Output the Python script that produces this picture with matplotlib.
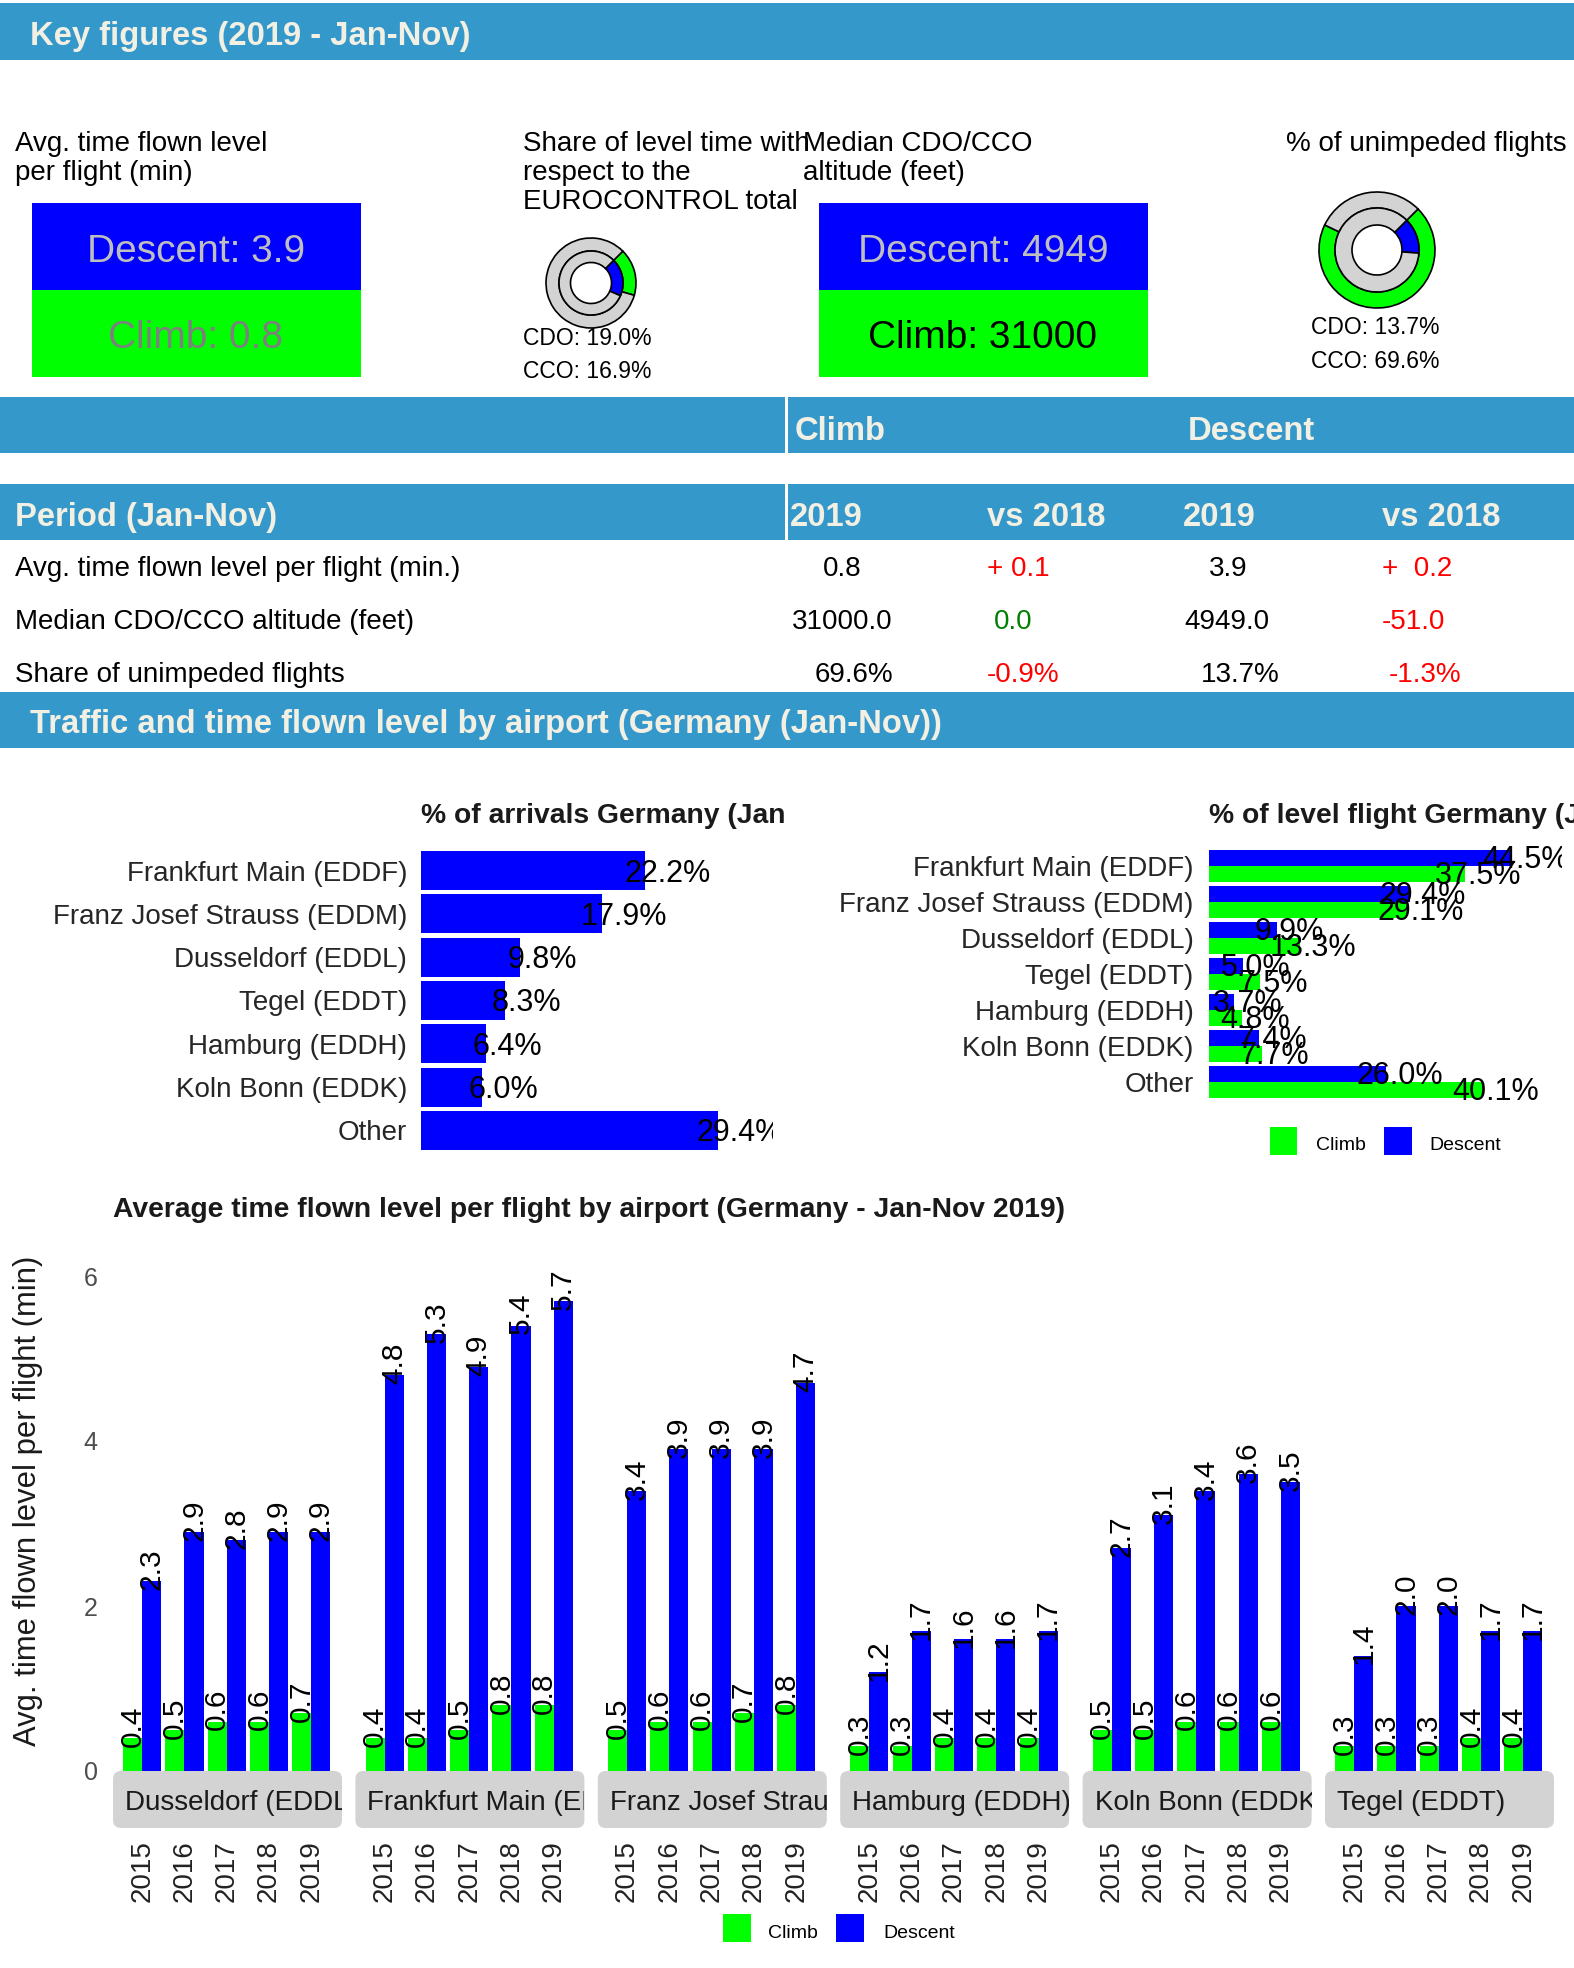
import matplotlib.pyplot as plt
import matplotlib.patches as mpatches
from matplotlib.transforms import Bbox, TransformedBbox
import numpy as np

W, H = 1574, 1968
plt.rcParams['font.family'] = ['Liberation Sans', 'DejaVu Sans']

BAND = '#3598CB'
BAND_TEXT = '#F2EFE3'
BLUE = '#0000FF'
GREEN = '#00FF00'
RING = '#D3D3D3'
DARK = '#262626'

# key figures
avg_level_descent = 3.9
avg_level_climb = 0.8
median_alt_descent = 4949
median_alt_climb = 31000
share_cdo, share_cco = 19.0, 16.9
unimpeded_cdo, unimpeded_cco = 13.7, 69.6

# table
table_rows = ["Avg. time flown level per flight (min.)",
              "Median CDO/CCO altitude (feet)",
              "Share of unimpeded flights"]
climb_2019 = ["0.8", "31000.0", "69.6%"]
climb_vs2018 = ["+ 0.1", "0.0", "-0.9%"]
descent_2019 = ["3.9", "4949.0", "13.7%"]
descent_vs2018 = ["+  0.2", "-51.0", "-1.3%"]
climb_vs_colors = ['#FF0000', '#008000', '#FF0000']
descent_vs_colors = ['#FF0000', '#FF0000', '#FF0000']

# traffic by airport
airports = ["Frankfurt Main (EDDF)", "Franz Josef Strauss (EDDM)", "Dusseldorf (EDDL)",
            "Tegel (EDDT)", "Hamburg (EDDH)", "Koln Bonn (EDDK)", "Other"]
arrivals_pct = [22.2, 17.9, 9.8, 8.3, 6.4, 6.0, 29.4]
level_climb_pct = [37.5, 29.1, 13.3, 7.5, 4.8, 7.7, 40.1]
level_descent_pct = [44.5, 29.4, 9.9, 5.0, 3.7, 7.4, 26.0]

# avg time flown level by airport and year
facet_airports = ["Dusseldorf (EDDL)", "Frankfurt Main (EDDF)", "Franz Josef Strauss (EDDM)",
                  "Hamburg (EDDH)", "Koln Bonn (EDDK)", "Tegel (EDDT)"]
years = ["2015", "2016", "2017", "2018", "2019"]
climb_min = [[0.4, 0.5, 0.6, 0.6, 0.7],
             [0.4, 0.4, 0.5, 0.8, 0.8],
             [0.5, 0.6, 0.6, 0.7, 0.8],
             [0.3, 0.3, 0.4, 0.4, 0.4],
             [0.5, 0.5, 0.6, 0.6, 0.6],
             [0.3, 0.3, 0.3, 0.4, 0.4]]
descent_min = [[2.3, 2.9, 2.8, 2.9, 2.9],
               [4.8, 5.3, 4.9, 5.4, 5.7],
               [3.4, 3.9, 3.9, 3.9, 4.7],
               [1.2, 1.7, 1.6, 1.6, 1.7],
               [2.7, 3.1, 3.4, 3.6, 3.5],
               [1.4, 2.0, 2.0, 1.7, 1.7]]

fig = plt.figure(figsize=(W / 100, H / 100), dpi=100)


# helpers working in pixel coordinates (origin top-left)
def px_axes(l, t, r, b):
    return fig.add_axes([l / W, 1 - b / H, (r - l) / W, (b - t) / H])


def ftext(x, y, s, **kw):
    return fig.text(x / W, 1 - y / H, s, **kw)


def frect(l, t, r, b, color):
    fig.add_artist(mpatches.Rectangle((l / W, 1 - b / H), (r - l) / W, (b - t) / H,
                                      transform=fig.transFigure, facecolor=color,
                                      edgecolor='none'))


def clip_px(artist, l, t, r, b):
    box = TransformedBbox(Bbox.from_extents(l / W, 1 - b / H, r / W, 1 - t / H), fig.transFigure)
    artist.set_clip_box(box)
    artist.set_clip_on(True)


def band(t, b, text, y_base):
    frect(0, t, W, b, BAND)
    ftext(30, y_base, text, fontsize=23.6, fontweight='bold', color=BAND_TEXT, va='baseline')


# ---------- Key figures ----------
band(3, 60, "Key figures (2019 - Jan-Nov)", 45)

for i, line in enumerate(["Avg. time flown level", "per flight (min)"]):
    ftext(15, 151 + 29 * i, line, fontsize=20, va='baseline')
for i, line in enumerate(["Share of level time with", "respect to the", "EUROCONTROL total"]):
    ftext(523, 151 + 29 * i, line, fontsize=20, va='baseline')
for i, line in enumerate(["Median CDO/CCO", "altitude (feet)"]):
    ftext(803, 151 + 29 * i, line, fontsize=20, va='baseline')
ftext(1286, 151, "% of unimpeded flights", fontsize=20, va='baseline')

# value boxes
frect(32, 203, 361, 290, BLUE)
frect(32, 290, 361, 377, GREEN)
ftext(196, 262, f"Descent: {avg_level_descent}", fontsize=28, color='#BEBEBE', ha='center', va='baseline')
ftext(196, 348, f"Climb: {avg_level_climb}", fontsize=28, color='#7F7F7F', ha='center', va='baseline')

frect(819, 203, 1148, 290, BLUE)
frect(819, 290, 1148, 377, GREEN)
ftext(983, 262, f"Descent: {median_alt_descent}", fontsize=28, color='#BEBEBE', ha='center', va='baseline')
ftext(983, 348, f"Climb: {median_alt_climb}", fontsize=28, color='black', ha='center', va='baseline')


# donuts
def donut(cx, cy, r_out, r_mid, r_in, cdo, cco):
    half = r_out + 6
    ax = px_axes(cx - half, cy - half, cx + half, cy + half)
    wp = dict(edgecolor='black', linewidth=1.2)
    ax.pie([cco, 100 - cco], radius=1.0, colors=[GREEN, RING], startangle=45,
           counterclock=False, wedgeprops=dict(width=1 - r_mid / r_out, **wp))
    ax.pie([cdo, 100 - cdo], radius=r_mid / r_out, colors=[BLUE, RING], startangle=45,
           counterclock=False, wedgeprops=dict(width=(r_mid - r_in) / r_out, **wp))
    lim = half / r_out
    ax.set_xlim(-lim, lim)
    ax.set_ylim(-lim, lim)
    ax.set_axis_off()


donut(591, 283, 45, 32, 20.5, share_cdo, share_cco)
ftext(523, 345, f"CDO: {share_cdo:.1f}%", fontsize=16.5, va='baseline')
ftext(523, 378, f"CCO: {share_cco:.1f}%", fontsize=16.5, va='baseline')

donut(1377, 250, 58, 42, 25, unimpeded_cdo, unimpeded_cco)
ftext(1311, 334, f"CDO: {unimpeded_cdo:.1f}%", fontsize=16.5, va='baseline')
ftext(1311, 368, f"CCO: {unimpeded_cco:.1f}%", fontsize=16.5, va='baseline')

# ---------- Table ----------
frect(0, 397, W, 453, BAND)
frect(0, 484, W, 540, BAND)
frect(785, 397, 788, 453, 'white')
frect(785, 484, 788, 540, 'white')
hdr = dict(fontsize=23.6, fontweight='bold', color=BAND_TEXT, va='baseline')
ftext(795, 440, "Climb", **hdr)
ftext(1188, 440, "Descent", **hdr)
ftext(15, 526, "Period (Jan-Nov)", **hdr)
ftext(790, 526, "2019", **hdr)
ftext(987, 526, "vs 2018", **hdr)
ftext(1183, 526, "2019", **hdr)
ftext(1382, 526, "vs 2018", **hdr)

row_base = [576, 629, 682]
c1_x = [842, 842, 854]
c2_x = [987, 994, 987]
c3_x = [1228, 1227, 1240]
c4_x = [1382, 1382, 1389]
for i, label in enumerate(table_rows):
    y = row_base[i]
    ftext(15, y, label, fontsize=20, va='baseline')
    ftext(c1_x[i], y, climb_2019[i], fontsize=20, ha='center', va='baseline')
    ftext(c2_x[i], y, climb_vs2018[i], fontsize=20, color=climb_vs_colors[i], va='baseline')
    ftext(c3_x[i], y, descent_2019[i], fontsize=20, ha='center', va='baseline')
    ftext(c4_x[i], y, descent_vs2018[i], fontsize=20, color=descent_vs_colors[i], va='baseline')

band(692, 748, "Traffic and time flown level by airport (Germany (Jan-Nov))", 733)

# ---------- % of arrivals ----------
ax_arr = px_axes(421, 849, 773, 1152)
ypos = np.arange(len(airports))
ax_arr.barh(ypos, arrivals_pct, height=0.9, color=BLUE)
ax_arr.set_xlim(0, (773 - 421) / 10.1)
ax_arr.set_ylim(6.5, -0.5)
ax_arr.set_yticks(ypos, airports, fontsize=20, color=DARK)
ax_arr.set_xticks([])
ax_arr.tick_params(length=0, pad=10)
for s in ax_arr.spines.values():
    s.set_visible(False)
for y, v in zip(ypos, arrivals_pct):
    lab = ax_arr.annotate(f"{v:.1f}%", (v, y), xytext=(22, -3), textcoords='offset pixels',
                          ha='center', va='center', fontsize=22, annotation_clip=False)
    clip_px(lab, 0, 820, 773, 1170)
t = ftext(421, 823, "% of arrivals Germany (Jan-Nov)", fontsize=20.3, fontweight='bold',
          color='#1A1A1A', va='baseline')
clip_px(t, 0, 780, 786, 840)

# ---------- % of level flight ----------
ax_lvl = px_axes(1209, 848, 1558, 1100)
ax_lvl.barh(ypos - 0.22, level_descent_pct, height=0.44, color=BLUE)
ax_lvl.barh(ypos + 0.22, level_climb_pct, height=0.44, color=GREEN)
ax_lvl.set_xlim(0, (1558 - 1209) / 6.82)
ax_lvl.set_ylim(6.5, -0.5)
ax_lvl.set_yticks(ypos, airports, fontsize=20, color=DARK)
ax_lvl.set_xticks([])
ax_lvl.tick_params(length=0, pad=11)
for s in ax_lvl.spines.values():
    s.set_visible(False)
for y, v in zip(ypos, level_descent_pct):
    lab = ax_lvl.annotate(f"{v:.1f}%", (v, y - 0.22), xytext=(13, -2), textcoords='offset pixels',
                          ha='center', va='center', fontsize=22, annotation_clip=False)
    clip_px(lab, 0, 820, 1562, 1120)
for y, v in zip(ypos, level_climb_pct):
    lab = ax_lvl.annotate(f"{v:.1f}%", (v, y + 0.22), xytext=(13, -2), textcoords='offset pixels',
                          ha='center', va='center', fontsize=22, annotation_clip=False)
    clip_px(lab, 0, 820, 1562, 1120)
ftext(1209, 823, "% of level flight Germany (Jan-Nov)", fontsize=20.3, fontweight='bold',
      color='#1A1A1A', va='baseline')

# legend of level chart
frect(1270, 1127, 1297, 1155, GREEN)
ftext(1316, 1150, "Climb", fontsize=14, va='baseline')
frect(1384, 1127, 1412, 1155, BLUE)
ftext(1429, 1150, "Descent", fontsize=14, va='baseline')

# ---------- Avg time flown level per airport ----------
ftext(113, 1217, "Average time flown level per flight by airport (Germany - Jan-Nov 2019)",
      fontsize=20.3, fontweight='bold', color='#1A1A1A', va='baseline')
ftext(28, 1501, "Avg. time flown level per flight (min)", fontsize=22.3, rotation=90,
      ha='center', va='center', color='#1A1A1A')

xpos = np.arange(len(years))
for i, name in enumerate(facet_airports):
    left = 113 + i * 242.4
    ax = px_axes(left, 1250, left + 229, 1771)
    ax.bar(xpos - 0.225, climb_min[i], width=0.45, color=GREEN)
    ax.bar(xpos + 0.225, descent_min[i], width=0.45, color=BLUE)
    for x, v in zip(xpos, climb_min[i]):
        ax.annotate(f"{v:.1f}", (x - 0.225, v), xytext=(0, -9), textcoords='offset pixels',
                    rotation=90, ha='center', va='bottom', fontsize=21.5, annotation_clip=False)
    for x, v in zip(xpos, descent_min[i]):
        ax.annotate(f"{v:.1f}", (x + 0.225, v), xytext=(0, -9), textcoords='offset pixels',
                    rotation=90, ha='center', va='bottom', fontsize=21.5, annotation_clip=False)
    ax.set_xlim(-0.69, 229 / 42.3 - 0.69)
    ax.set_ylim(0, 521 / 82.5)
    ax.set_xticks(xpos, years, rotation=90, fontsize=20, color='#222222')
    ax.tick_params(axis='x', length=0, pad=50)
    if i == 0:
        ax.set_yticks([0, 2, 4, 6], ["0", "2", "4", "6"], fontsize=18, color='#4D4D4D')
        ax.tick_params(axis='y', length=0, pad=11)
    else:
        ax.set_yticks([])
    for s in ax.spines.values():
        s.set_visible(False)

    # strip below panel
    strip = mpatches.FancyBboxPatch((left / 100, (H - 1828) / 100), 2.29, 0.57,
                                    boxstyle='round,pad=0,rounding_size=0.08',
                                    transform=fig.dpi_scale_trans, facecolor=RING,
                                    edgecolor='none')
    fig.add_artist(strip)
    st = ftext(left + 12, 1810, name, fontsize=20, color='#1A1A1A', va='baseline')
    clip_px(st, left, 1771, left + 229, 1828)

# bottom legend
frect(723, 1914, 751, 1942, GREEN)
ftext(768, 1938, "Climb", fontsize=14, va='baseline')
frect(836, 1914, 864, 1942, BLUE)
ftext(883, 1938, "Descent", fontsize=14, va='baseline')

fig.savefig("out.png", dpi=100)
